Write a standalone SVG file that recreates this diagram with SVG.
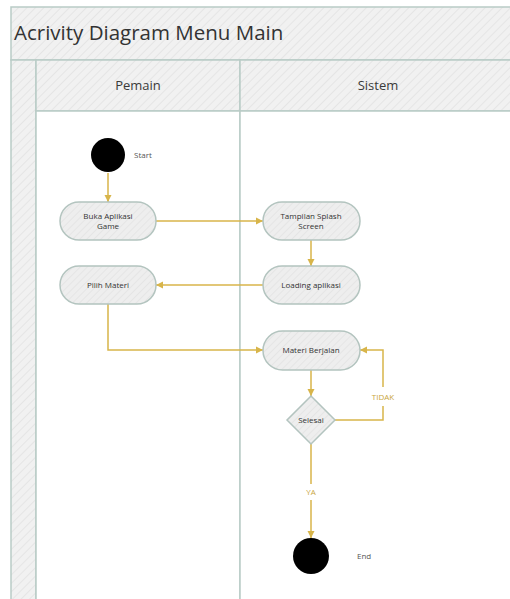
<svg xmlns="http://www.w3.org/2000/svg" width="510" height="599" viewBox="0 0 510 599">
<style>
.hdr{fill:url(#hatch);stroke:#b9cbc6;stroke-width:1.5}
.lane{fill:#ffffff;stroke:#b9cbc6;stroke-width:1.5}
.node{fill:url(#nhatch);stroke:#b3c4bf;stroke-width:1.5}
.ntxt{font-family:"Open Sans","Noto Sans",sans-serif;font-size:8px;fill:#333;text-anchor:middle}
.lbl{font-family:"Open Sans","Noto Sans",sans-serif;font-size:8px;fill:#555}
.glbl{font-family:"Open Sans","Noto Sans",sans-serif;font-size:8px;fill:#c9a640;text-anchor:middle}
.conn{fill:none;stroke:#d8b54a;stroke-width:1.5}
</style>
<defs>
<pattern id="hatch" width="6" height="6" patternUnits="userSpaceOnUse" patternTransform="rotate(45)">
<rect width="6" height="6" fill="#f1f1f1"/>
<line x1="0" y1="0" x2="0" y2="6" stroke="#e5e5e5" stroke-width="2"/>
</pattern>
<pattern id="nhatch" width="5" height="5" patternUnits="userSpaceOnUse" patternTransform="rotate(45)">
<rect width="5" height="5" fill="#eeeeee"/>
<line x1="0" y1="0" x2="0" y2="5" stroke="#e2e2e2" stroke-width="1.5"/>
</pattern>
<marker id="arr" markerWidth="8" markerHeight="8" refX="7" refY="4" orient="auto" markerUnits="userSpaceOnUse">
<path d="M0,0.5 L7,4 L0,7.5 Z" fill="#d8b54a"/>
</marker>
</defs>
<rect width="510" height="599" fill="#ffffff"/>
<g id="pool">
<rect class="hdr" x="11" y="7" width="510" height="53"/>
<text x="14" y="40" font-family="'Open Sans','Noto Sans',sans-serif" font-size="20.5" fill="#333">Acrivity Diagram Menu Main</text>
<rect class="hdr" x="11" y="60" width="25" height="550"/>
<rect class="hdr" x="36" y="60" width="204" height="51"/>
<rect class="hdr" x="240" y="60" width="280" height="51"/>
<text x="138" y="90" font-family="'Open Sans','Noto Sans',sans-serif" font-size="13" fill="#3a3a3a" text-anchor="middle">Pemain</text>
<text x="378" y="90" font-family="'Open Sans','Noto Sans',sans-serif" font-size="13" fill="#3a3a3a" text-anchor="middle">Sistem</text>
<rect class="lane" x="36" y="111" width="204" height="500"/>
<rect class="lane" x="240" y="111" width="280" height="500"/>
</g>
<g id="connectors">
<line class="conn" x1="108" y1="173" x2="108" y2="202" marker-end="url(#arr)"/>
<line class="conn" x1="156" y1="221" x2="263" y2="221" marker-end="url(#arr)"/>
<line class="conn" x1="311" y1="240" x2="311" y2="266" marker-end="url(#arr)"/>
<line class="conn" x1="263" y1="285" x2="156" y2="285" marker-end="url(#arr)"/>
<polyline class="conn" points="108,304 108,350 263,350" marker-end="url(#arr)"/>
<line class="conn" x1="311" y1="370" x2="311" y2="396" marker-end="url(#arr)"/>
<polyline class="conn" points="335,420 383,420 383,406"/>
<polyline class="conn" points="383,387 383,350 360,350" marker-end="url(#arr)"/>
<text class="glbl" x="383" y="400">TIDAK</text>
<line class="conn" x1="311" y1="444" x2="311" y2="484"/>
<line class="conn" x1="311" y1="500" x2="311" y2="538" marker-end="url(#arr)"/>
<text class="glbl" x="311" y="495">YA</text>
</g>
<g id="start">
<circle cx="108" cy="155" r="17" fill="#000"/>
<text class="lbl" x="134" y="158">Start</text>
</g>
<g id="buka">
<rect class="node" x="60" y="202" width="96" height="38" rx="19"/>
<text class="ntxt" x="108" y="219">Buka Aplikasi</text>
<text class="ntxt" x="108" y="229">Game</text>
</g>
<g id="pilih">
<rect class="node" x="60" y="266" width="96" height="38" rx="19"/>
<text class="ntxt" x="108" y="288">Pilih Materi</text>
</g>
<g id="splash">
<rect class="node" x="263" y="202" width="97" height="38" rx="19"/>
<text class="ntxt" x="311" y="219">Tampilan Splash</text>
<text class="ntxt" x="311" y="229">Screen</text>
</g>
<g id="loading">
<rect class="node" x="263" y="266" width="97" height="38" rx="19"/>
<text class="ntxt" x="311" y="288">Loading aplikasi</text>
</g>
<g id="materi">
<rect class="node" x="263" y="331" width="97" height="39" rx="19.5"/>
<text class="ntxt" x="311" y="353">Materi Berjalan</text>
</g>
<g id="selesai">
<polygon class="node" points="311,396 335,420 311,444 287,420"/>
<text class="ntxt" x="311" y="423">Selesai</text>
</g>
<g id="end">
<circle cx="311" cy="556" r="18" fill="#000"/>
<text class="lbl" x="357" y="559">End</text>
</g>
</svg>
